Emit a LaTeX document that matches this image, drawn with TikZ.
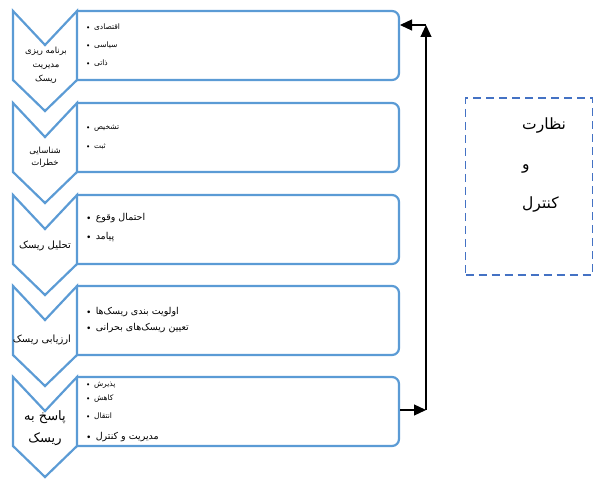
\documentclass[tikz,border=0pt]{standalone}
\usepackage{fontspec}
\usetikzlibrary{arrows.meta}
\newfontfamily\farsi[Script=Arabic]{DejaVu Sans}
\TeXXeTstate=1
\newcommand{\fa}[1]{{\farsi\beginR #1\endR}}
\definecolor{chevblue}{HTML}{5B9BD5}
\definecolor{dashblue}{HTML}{4472C4}

\begin{document}
\begin{tikzpicture}[x=1pt,y=-1pt]
	\useasboundingbox (0,0) rectangle (594,481);
	% Define the styles
	\tikzstyle{chev} = [draw=chevblue, line width=2.2pt, fill=white, line join=miter];
	\tikzstyle{panel} = [draw=chevblue, line width=2.2pt, rounded corners=7pt];
	\tikzstyle{item} = [anchor=west, inner sep=0pt];
	\tikzstyle{steplabel} = [align=center, inner sep=0pt];
	\tikzstyle{flow} = [-{Triangle[length=12pt,width=11pt]}, line width=1.2pt];
	
	% Draw 5 chevrons with their panels
	\foreach \t in {11,103,195,286,377}
	{
		\draw[chev] (13,\t) -- (45,\t+34) -- (77,\t) -- (77,\t+69) -- (45,\t+100) -- (13,\t+69) -- cycle;
		\draw[panel] (77,\t) -- (399,\t) -- (399,\t+69) -- (77,\t+69);
	}
	
	% Step names
	\node[steplabel, font=\fontsize{8.5}{14}\selectfont] (c1) at (46,65) {\fa{برنامه ریزی}\\\fa{مدیریت}\\\fa{ریسک}};
	\node[steplabel, font=\fontsize{8.5}{12}\selectfont] (c2) at (45,157) {\fa{شناسایی}\\\fa{خطرات}};
	\node[steplabel, font=\fontsize{10}{12}\selectfont] (c3) at (45,246) {\fa{تحلیل ریسک}};
	\node[steplabel, font=\fontsize{10}{12}\selectfont] (c4) at (42,340) {\fa{ارزیابی ریسک}};
	\node[steplabel, font=\fontsize{13}{22}\selectfont] (c5) at (45,428) {\fa{پاسخ به}\\\fa{ریسک}};
	
	% Bullet items in the panels
	\foreach \n/\y/\s/\txt in {1/27/7.5/اقتصادی, 2/45/7.5/سیاسی, 3/63/7.5/ذاتی, 4/128/7.5/تشخیص, 5/147/7.5/ثبت, 6/218/9.5/احتمال وقوع, 7/237/9.5/پیامد, 8/312/9.5/اولویت بندی ریسک‌ها, 9/328/9.5/تعیین ریسک‌های بحرانی, 10/385/7.5/پذیرش, 11/399/7.5/کاهش, 12/416/7.5/انتقال, 13/437/9.5/مدیریت و کنترل}
	\node[item, font=\fontsize{\s}{10}\selectfont] (b\n) at (85,\y) {\textbullet\ \fa{\txt}};
	
	% Monitoring box
	\node[draw=dashblue, dash pattern=on 8pt off 5pt, line width=1.8pt, minimum width=127pt, minimum height=177pt] (monitor) at (529,186.5) {};
	\node[anchor=base west, align=left, inner sep=0pt, font=\fontsize{15.5}{39}\selectfont] (mtext) at (522,208) {\fa{نظارت}\\\fa{و}\\\fa{کنترل}};
	
	% Feedback loop
	\coordinate (up) at (426,25);
	\coordinate (down) at (426,410);
	\coordinate (p1) at (400,25);
	\coordinate (p5) at (400,410);
	\draw[flow] (p5) -- (down);
	\draw[flow] (down) -- (up);
	\draw[flow] (up) -- (p1);
\end{tikzpicture}
\end{document}
